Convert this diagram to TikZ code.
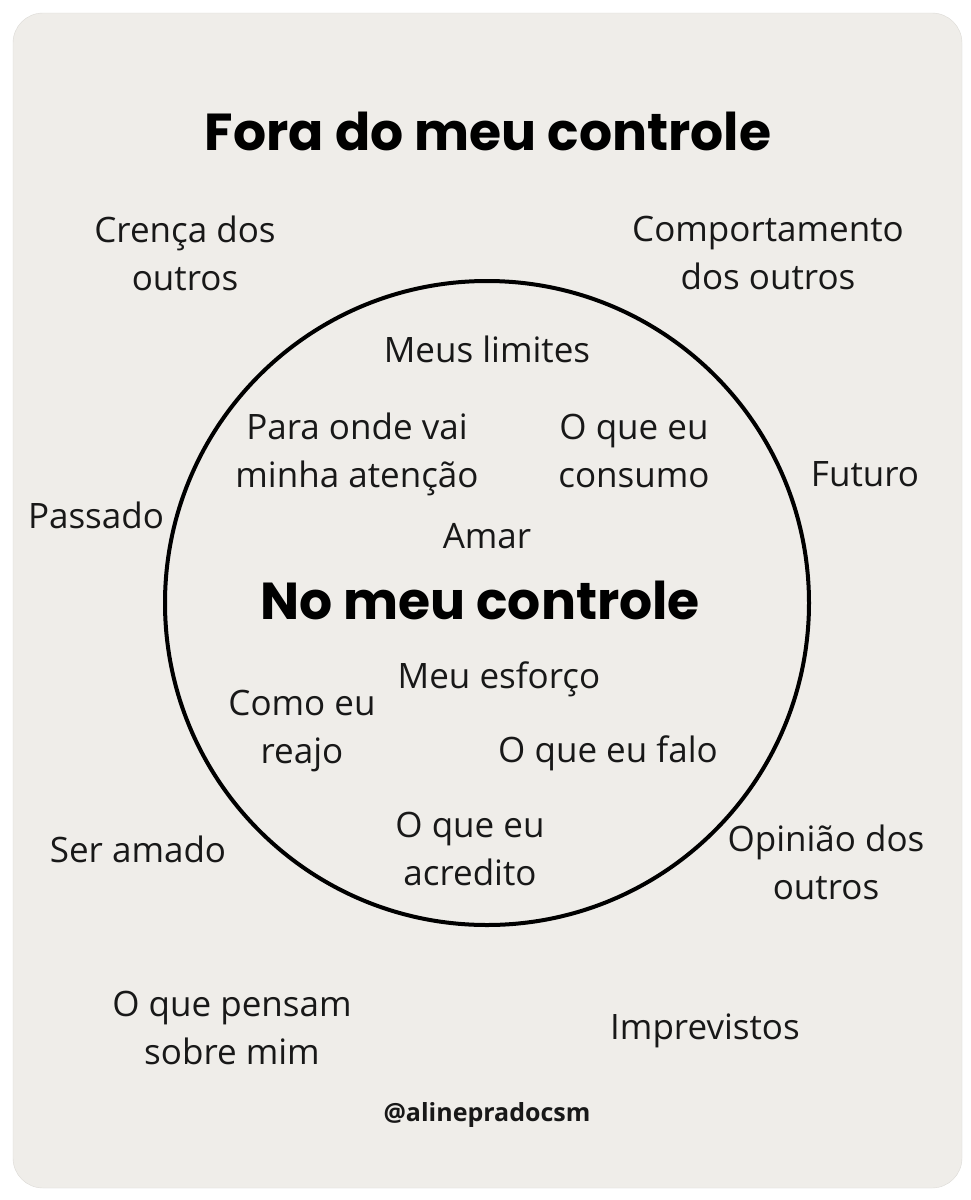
\documentclass[tikz,border=0pt]{standalone}
\usepackage{fontspec}
\setmainfont{Open Sans}
\newfontfamily\headfont{Poppins}
\usepackage{tikz}
\definecolor{card}{HTML}{EFEDE9}
\definecolor{cardline}{HTML}{DCDAD6}
\definecolor{ink}{HTML}{181818}
\tikzset{
  item/.style={text=ink, align=center, font=\fontsize{35}{48}\selectfont},
  head/.style={text=black, font=\headfont\bfseries\fontsize{52}{56}\selectfont},
  tag/.style={text=ink, font=\bfseries\fontsize{25}{28}\selectfont}
}
\begin{document}
\begin{tikzpicture}[x=1pt, y=-1pt]
\useasboundingbox (0,0) rectangle (970,1200);
\fill[white] (0,0) rectangle (970,1200);
\draw[cardline, fill=card, rounded corners=30pt] (13,13) rectangle (962,1188);

% the circle
\draw[line width=4pt] (487,603) circle (322pt);

% outside the circle
\node[head] (fora) at (488,131) {Fora do meu controle};
\node[item] (crenca) at (185,253) {Crença dos\\outros};
\node[item] (comport) at (768,253) {Comportamento\\dos outros};
\node[item] (futuro) at (865,474) {Futuro};
\node[item] (passado) at (96,515) {Passado};
\node[item] (seramado) at (138,849) {Ser amado};
\node[item] (opiniao) at (826,862) {Opinião dos\\outros};
\node[item] (pensam) at (232,1028) {O que pensam\\sobre mim};
\node[item] (imprev) at (705,1031) {Imprevistos};

% inside the circle
\node[item] (limites) at (487,349) {Meus limites};
\node[item] (atencao) at (357,454) {Para onde vai\\minha atenção};
\node[item] (consumo) at (634,451) {O que eu\\consumo};
\node[item] (amar) at (487,536) {Amar};
\node[head] (nomeu) at (480,600) {No meu controle};
\node[item] (esforco) at (499,679) {Meu esforço};
\node[item] (reajo) at (302,731) {Como eu\\reajo};
\node[item] (falo) at (608,753) {O que eu falo};
\node[item] (acredito) at (470,849) {O que eu\\acredito};

\node[tag] (autor) at (487,1115) {@alinepradocsm};
\end{tikzpicture}
\end{document}
